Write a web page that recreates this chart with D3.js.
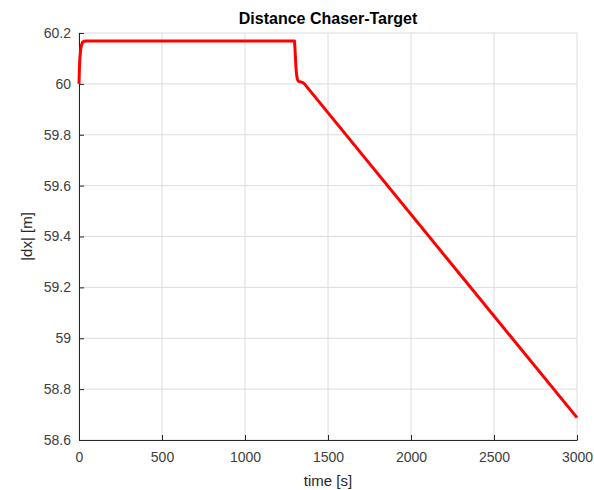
<!DOCTYPE html>
<html>
<head>
<meta charset="utf-8">
<script src="https://cdn.jsdelivr.net/npm/d3@7"></script>
<style>
  body { margin: 0; background: #fff; }
  text { font-family: "Liberation Sans", Arial, sans-serif; }
</style>
</head>
<body>
<div id="chart"></div>
<script>
// values
var timeVals = [0, 2, 4, 6, 9, 12, 16, 20, 26, 32, 45, 100, 500, 1000, 1298, 1301, 1304, 1307, 1311, 1315, 1320, 1326, 1335, 1345, 1358, 3000];
var distVals = [60.0, 60.05, 60.085, 60.105, 60.128, 60.143, 60.155, 60.162, 60.166, 60.168, 60.169, 60.169, 60.169, 60.169, 60.169, 60.14, 60.1, 60.065, 60.035, 60.02, 60.012, 60.009, 60.008, 60.006, 60.0, 58.688];
var xTicks = [0, 500, 1000, 1500, 2000, 2500, 3000];
var yTicks = [58.6, 58.8, 59, 59.2, 59.4, 59.6, 59.8, 60, 60.2];

var svgWidth = 594;
var svgHeight = 490;
var margin = { top: 33, right: 17, bottom: 50, left: 79 };
var width = svgWidth - margin.left - margin.right;
var height = svgHeight - margin.top - margin.bottom;

var svg = d3.select("#chart")
  .append("svg")
  .attr("width", svgWidth)
  .attr("height", svgHeight);

var chartGroup = svg.append("g")
  .attr("transform", `translate(${margin.left}, ${margin.top})`);

var xScale = d3.scaleLinear().domain([0, 3000]).range([0, width]);
var yScale = d3.scaleLinear().domain([58.6, 60.2]).range([height, 0]);

// grid
chartGroup.append("g")
  .selectAll("line")
  .data(xTicks)
  .enter()
  .append("line")
  .attr("x1", d => xScale(d)).attr("x2", d => xScale(d))
  .attr("y1", 0).attr("y2", height)
  .attr("stroke", "#dcdcdc").attr("stroke-width", 1);

chartGroup.append("g")
  .selectAll("line")
  .data(yTicks)
  .enter()
  .append("line")
  .attr("x1", 0).attr("x2", width)
  .attr("y1", d => yScale(d)).attr("y2", d => yScale(d))
  .attr("stroke", "#dcdcdc").attr("stroke-width", 1);

// axes
var bottomAxis = d3.axisBottom(xScale).tickValues(xTicks).tickSizeInner(-5).tickSizeOuter(0).tickPadding(12).tickFormat(d3.format("d"));
var leftAxis = d3.axisLeft(yScale).tickValues(yTicks).tickSizeInner(-5).tickSizeOuter(0).tickPadding(8).tickFormat(d => String(+d.toFixed(1)));

var xAxisG = chartGroup.append("g")
  .attr("transform", `translate(0, ${height})`)
  .call(bottomAxis);

var yAxisG = chartGroup.append("g")
  .call(leftAxis);

[xAxisG, yAxisG].forEach(function(g) {
  g.select(".domain").attr("stroke", "#262626");
  g.selectAll(".tick line").attr("stroke", "#262626");
  g.selectAll("text")
    .attr("fill", "#404040")
    .style("font-size", "14px")
    .style("font-family", "Liberation Sans, Arial, sans-serif");
});

// data line
var data = timeVals.map((t, i) => ({ t: t, v: distVals[i] }));
var line = d3.line()
  .x(d => xScale(d.t))
  .y(d => yScale(d.v));

chartGroup.append("path")
  .datum(data)
  .attr("d", line)
  .attr("fill", "none")
  .attr("stroke", "#ff0000")
  .attr("stroke-width", 3)
  .attr("stroke-linejoin", "round");

// labels
svg.append("text")
  .attr("x", margin.left + width / 2)
  .attr("y", 24)
  .attr("text-anchor", "middle")
  .style("font-size", "16px")
  .style("font-weight", "bold")
  .attr("fill", "#000")
  .text("Distance Chaser-Target");

svg.append("text")
  .attr("x", margin.left + width / 2)
  .attr("y", 486)
  .attr("text-anchor", "middle")
  .style("font-size", "15px")
  .attr("fill", "#262626")
  .text("time [s]");

svg.append("text")
  .attr("transform", `translate(32, ${margin.top + height / 2}) rotate(-90)`)
  .attr("text-anchor", "middle")
  .style("font-size", "15px")
  .attr("fill", "#262626")
  .text("|dx| [m]");
</script>
</body>
</html>
